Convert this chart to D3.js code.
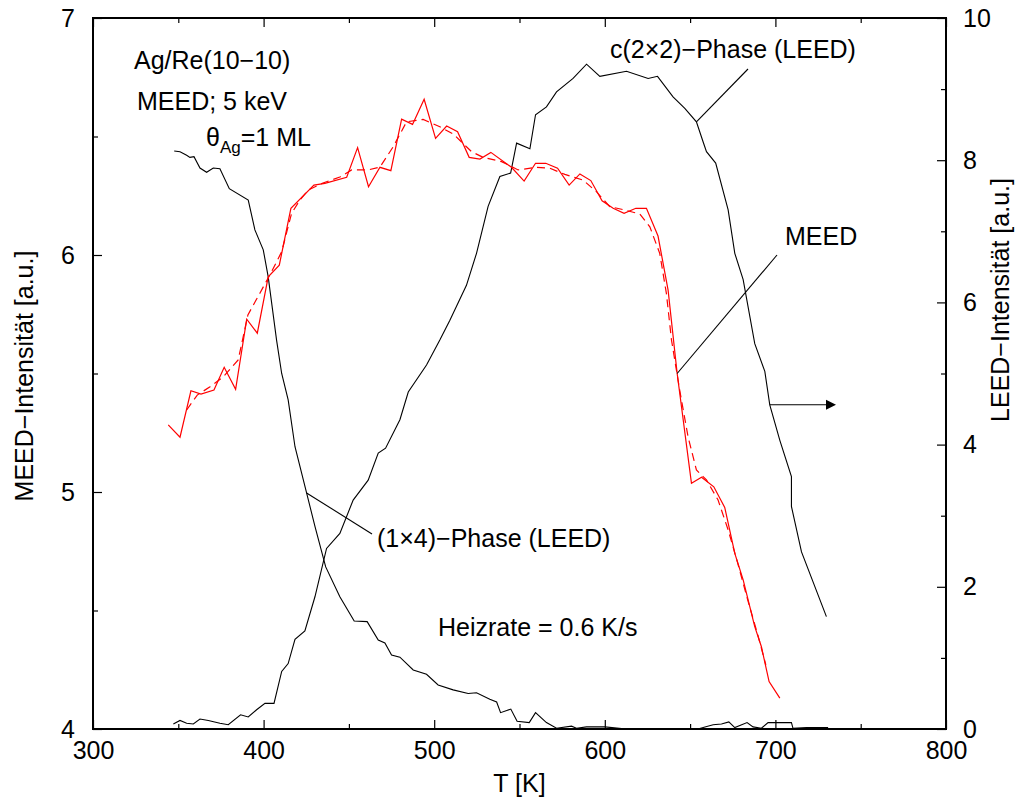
<!DOCTYPE html>
<html><head><meta charset="utf-8">
<script src="https://cdn.jsdelivr.net/npm/d3@7"></script>
<style>
body{margin:0;background:#fff;}
text{font-family:"Liberation Sans",Arial,Helvetica,sans-serif;}
</style></head>
<body>
<svg id="chart" width="1016" height="799"></svg>
<script>
// MEED intensity, solid (left axis)
const meedT = [344.1,351.0,357.4,363.3,370.9,376.9,383.6,390.1,396.3,402.7,409.2,416.0,429.5,435.9,448.7,455.1,461.5,468.2,474.6,480.9,487.3,494.1,500.8,507.3,513.7,520.5,526.8,533.2,545.3,552.7,559.4,565.4,572.3,579.1,585.4,591.8,598.4,604.9,611.3,618.2,624.4,631.2,637.1,642.4,650.8,656.7,663.9,670.3,676.2,681.1,687.9,691.8,696.3,702.6];
const meedI = [5.283,5.231,5.427,5.413,5.430,5.526,5.433,5.729,5.670,5.908,5.957,6.197,6.295,6.302,6.328,6.453,6.288,6.370,6.356,6.573,6.551,6.657,6.492,6.544,6.520,6.412,6.405,6.433,6.370,6.312,6.387,6.387,6.366,6.295,6.342,6.314,6.229,6.197,6.176,6.197,6.197,6.080,5.852,5.501,5.037,5.062,5.022,4.935,4.741,4.629,4.432,4.347,4.200,4.130];
// MEED intensity, dashed (smoothed, left axis)
const meedSmT = [354.9,361.1,368.6,376.4,385.1,390.8,397.9,404.7,410.6,416.4,421.3,426.2,434.8,444.7,451.6,461.3,468.2,476.0,483.8,493.5,503.3,511.1,521.9,528.7,539.5,549.2,560.0,567.8,576.6,587.3,595.1,602.9,609.8,620.5,626.4,632.2,636.1,639.1,643.9,648.8,653.7,659.6,666.4,672.3,677.4,683.8,689.7,694.4];
const meedSmI = [5.346,5.409,5.444,5.486,5.557,5.747,5.840,5.930,6.014,6.176,6.232,6.274,6.304,6.329,6.359,6.359,6.371,6.457,6.562,6.572,6.541,6.511,6.436,6.412,6.394,6.359,6.370,6.366,6.340,6.316,6.267,6.204,6.193,6.173,6.119,6.007,5.838,5.641,5.430,5.233,5.093,5.051,4.966,4.840,4.713,4.544,4.397,4.270];
// (1x4) phase LEED (right axis)
const p14T = [347.6,351.0,354.9,356.8,359.2,362.7,366.6,370.5,374.4,379.9,391.0,394.9,399.8,402.7,407.6,410.6,414.4,418.4,425.2,430.1,436.4,444.7,453.1,460.7,467.2,471.1,475.0,479.9,487.7,495.5,502.3,511.1,519.9,524.8,532.6,536.6,538.9,544.9,548.6,555.7,559.4,565.8,571.7,580.5,583.4,589.3,600.0,612.7,649.8,654.5,663.5,668.4,672.7,676.2,683.4,686.9,691.8,695.7,709.4,710.3,718.2,730.9];
const p14I = [8.13,8.12,8.07,8.04,8.05,7.89,7.83,7.89,7.88,7.60,7.44,7.02,6.74,6.36,5.47,5.00,4.63,3.97,3.32,2.85,2.28,1.86,1.52,1.51,1.25,1.21,1.04,1.01,0.83,0.77,0.62,0.55,0.50,0.51,0.42,0.38,0.23,0.28,0.11,0.09,0.23,0.09,0.01,0.04,0.01,0.03,0.03,0.0,0.0,0.0,0.06,0.07,0.10,0.02,0.09,0.03,0.01,0.09,0.09,0.01,0.02,0.02];
// c(2x2) phase LEED (right axis)
const c22T = [347.1,351.0,354.9,358.8,362.7,367.6,374.4,379.3,386.5,391.0,395.9,400.8,406.1,410.6,414.4,418.4,424.2,430.1,436.9,444.7,452.5,461.3,467.2,471.5,479.9,484.8,495.5,503.3,509.2,518.9,524.8,531.6,538.5,544.8,548.3,556.1,559.4,565.8,571.7,581.4,589.3,597.1,612.7,625.4,630.9,640.0,646.9,653.7,657.6,659.6,665.0,672.3,676.2,681.1,687.9,693.8,696.7,702.6,709.4,709.4,715.3,729.9];
const c22I = [0.07,0.12,0.08,0.07,0.14,0.12,0.08,0.06,0.20,0.17,0.27,0.36,0.36,0.81,0.92,1.26,1.38,1.86,2.54,2.75,3.22,3.50,3.88,3.95,4.35,4.74,5.12,5.47,5.75,6.24,6.69,7.35,7.77,7.82,8.24,8.16,8.64,8.75,8.96,9.15,9.35,9.18,9.25,9.15,9.18,8.89,8.73,8.54,8.26,8.12,7.96,7.30,6.69,6.32,5.42,5.03,4.56,4.06,3.55,3.13,2.49,1.58];

const xTicks = [300,400,500,600,700,800];
const xMinor = [350,450,550,650,750];
const yLTicks = [4,5,6,7];
const yLMinor = [4.5,5.5,6.5];
const yRTicks = [0,2,4,6,8,10];
const yRMinor = [1,3,5,7,9];

const svg = d3.select("#chart");
const L=93,R=946,T=18,B=729;
const x = d3.scaleLinear().domain([300,800]).range([L,R]);
const yL = d3.scaleLinear().domain([4,7]).range([B,T]);
const yR = d3.scaleLinear().domain([0,10]).range([B,T]);
const FS = 25;

function styleAxis(g){
  g.select(".domain").remove();
  g.selectAll(".tick line").attr("stroke","#000").attr("stroke-width",1.2);
  g.selectAll("text").attr("font-size",FS).attr("fill","#000").attr("font-family","Liberation Sans, Arial, sans-serif");
}
// bottom
svg.append("g").attr("transform",`translate(0,${B})`)
  .call(d3.axisBottom(x).tickValues(xTicks).tickSize(-9).tickPadding(12).tickFormat(d3.format("d"))).call(styleAxis);
svg.append("g").attr("transform",`translate(0,${B})`)
  .call(d3.axisBottom(x).tickValues(xMinor).tickSize(-5).tickFormat("")).call(styleAxis);
// top
svg.append("g").attr("transform",`translate(0,${T})`)
  .call(d3.axisTop(x).tickValues(xTicks).tickSize(-9).tickFormat("")).call(styleAxis);
svg.append("g").attr("transform",`translate(0,${T})`)
  .call(d3.axisTop(x).tickValues(xMinor).tickSize(-5).tickFormat("")).call(styleAxis);
// left
svg.append("g").attr("transform",`translate(${L},0)`)
  .call(d3.axisLeft(yL).tickValues(yLTicks).tickSize(-9).tickPadding(18).tickFormat(d3.format("d"))).call(styleAxis);
svg.append("g").attr("transform",`translate(${L},0)`)
  .call(d3.axisLeft(yL).tickValues(yLMinor).tickSize(-5).tickFormat("")).call(styleAxis);
// right
svg.append("g").attr("transform",`translate(${R},0)`)
  .call(d3.axisRight(yR).tickValues(yRTicks).tickSize(-9).tickPadding(17).tickFormat(d3.format("d"))).call(styleAxis);
svg.append("g").attr("transform",`translate(${R},0)`)
  .call(d3.axisRight(yR).tickValues(yRMinor).tickSize(-5).tickFormat("")).call(styleAxis);

svg.append("rect").attr("x",L).attr("y",T).attr("width",R-L).attr("height",B-T)
  .attr("fill","none").attr("stroke","#000").attr("stroke-width",2);

const lineL = d3.line().x(d=>x(d[0])).y(d=>yL(d[1]));
const lineR = d3.line().x(d=>x(d[0])).y(d=>yR(d[1]));
const zip=(a,b)=>a.map((v,i)=>[v,b[i]]);

svg.append("path").datum(zip(p14T,p14I)).attr("d",lineR).attr("fill","none").attr("stroke","#000").attr("stroke-width",1.1);
svg.append("path").datum(zip(c22T,c22I)).attr("d",lineR).attr("fill","none").attr("stroke","#000").attr("stroke-width",1.1);
svg.append("path").datum(zip(meedSmT,meedSmI)).attr("d",lineL).attr("fill","none").attr("stroke","#ff0000").attr("stroke-width",1.2).attr("stroke-dasharray","8,5");
svg.append("path").datum(zip(meedT,meedI)).attr("d",lineL).attr("fill","none").attr("stroke","#ff0000").attr("stroke-width",1.2);

// annotations
function txt(s,xx,yy,opt={}){
  return svg.append("text").attr("x",xx).attr("y",yy).attr("font-size",opt.fs||FS).attr("fill","#000").attr("text-anchor",opt.anchor||"start").text(s);
}
txt("Ag/Re(10\u221210)",134,69);
txt("MEED; 5 keV",137,110);
const th = svg.append("text").attr("x",206).attr("y",146).attr("font-size",FS);
th.append("tspan").text("\u03b8");
th.append("tspan").attr("font-size",17).attr("dy",7).text("Ag");
th.append("tspan").attr("dy",-7).text("=1 ML");
txt("c(2\u00d72)\u2212Phase (LEED)",610,58);
txt("MEED",785,245);
txt("(1\u00d74)\u2212Phase (LEED)",377,547);
txt("Heizrate = 0.6 K/s",438,636);
txt("T [K]",(L+R)/2,792,{anchor:"middle"});

svg.append("text").attr("transform","translate(33,376) rotate(-90)").attr("text-anchor","middle").attr("font-size",FS).text("MEED\u2212Intensit\u00e4t [a.u.]");
svg.append("text").attr("transform","translate(1009,300) rotate(-90)").attr("text-anchor","middle").attr("font-size",FS).text("LEED\u2212Intensit\u00e4t [a.u.]");

// leader lines
function seg(x1,y1,x2,y2){svg.append("line").attr("x1",x1).attr("y1",y1).attr("x2",x2).attr("y2",y2).attr("stroke","#000").attr("stroke-width",1.1);}
seg(748,69,x(653.7),yR(8.54));
seg(777,255,x(642.4),yL(5.5));
seg(372,534,x(425.2),yR(3.32));
// arrow
const ay = yR(4.56);
seg(x(696.7),ay,826,ay);
svg.append("path").attr("d",`M826,${ay-5}L836,${ay}L826,${ay+5}Z`).attr("fill","#000");
</script>
</body></html>
